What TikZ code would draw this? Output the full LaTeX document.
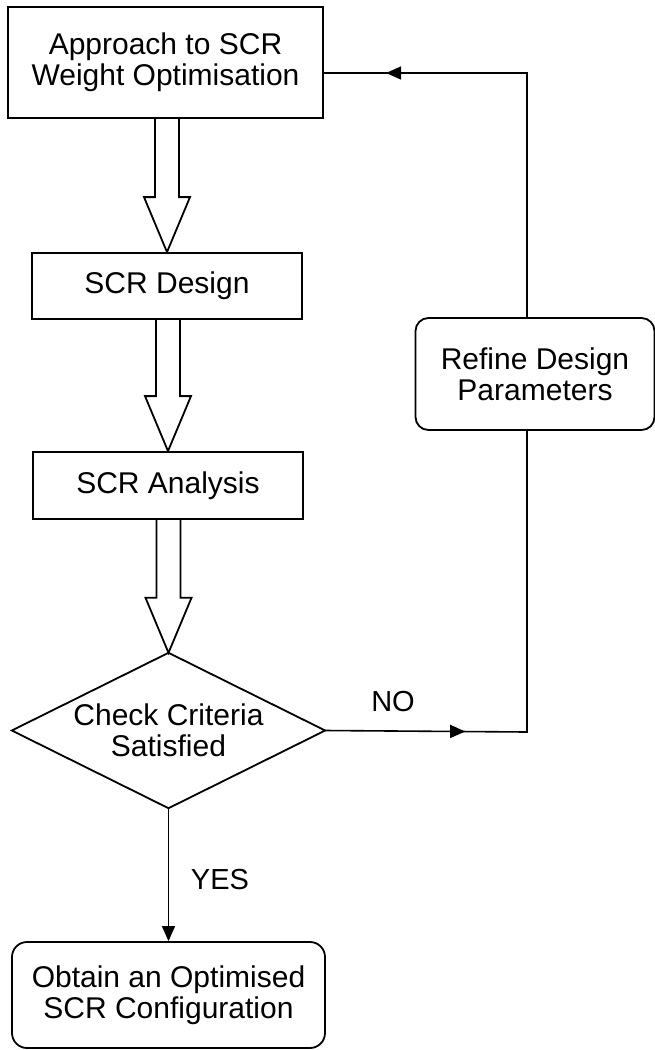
\documentclass[tikz,border=0pt]{standalone}
\usepackage{fontspec}
\setmainfont{Liberation Sans}
\usetikzlibrary{arrows.meta,decorations.markings,calc}
\newcommand{\hollowarr}[2]{%
  \draw[hollowline] let \p1=(#1), \p2=(#2) in
    (\x2-12pt,\y1) -- (\x2-12pt,\y2+55pt) -- (\x2-23pt,\y2+55pt) -- (\x2,\y2)
    -- (\x2+23pt,\y2+55pt) -- (\x2+12pt,\y2+55pt) -- (\x2+12pt,\y1);}
\begin{document}
\begin{tikzpicture}[x=1pt,y=-1pt,
  every node/.style={font=\fontsize{30}{31}\selectfont, align=center, inner sep=0pt},
  sqbox/.style={draw, line width=1.8pt, rectangle},
  rndbox/.style={draw, line width=1.8pt, rectangle, rounded corners=13pt},
  plainbox/.style={rectangle},
  hollowline/.style={line width=1.8pt, line join=miter},
  conn/.style={line width=1.6pt},
  midarrow/.style={postaction={decorate}, decoration={markings,
     mark=at position #1 with {\arrow{Triangle[length=15pt,width=13pt]}}}},
  lbl/.style={font=\fontsize{29}{30}\selectfont}]
\useasboundingbox (0,0) rectangle (655,1050);

\node[sqbox, minimum width=315pt, minimum height=111pt] (b1) at (165.5,62.5) {Approach to SCR\\Weight Optimisation};
\node[sqbox, minimum width=270pt, minimum height=66pt] (b2) at (167,286) {SCR Design};
\node[sqbox, minimum width=270pt, minimum height=67pt] (b3) at (168,485.5) {SCR Analysis};
\node[plainbox, minimum width=313pt, minimum height=155pt] (d) at (168.5,730.5) {Check Criteria\\Satisfied};
\draw[line width=1.8pt, line join=miter] (d.north) -- (d.east) -- (d.south) -- (d.west) -- cycle;
\node[rndbox, minimum width=239pt, minimum height=112pt] (ref) at (535,374) {Refine Design\\Parameters};
\node[rndbox, rounded corners=15pt, minimum width=313pt, minimum height=106pt] (fin) at (168.5,995) {Obtain an Optimised\\SCR Configuration};

\hollowarr{b1.south}{b2.north}
\hollowarr{b2.south}{b3.north}
\hollowarr{b3.south}{d.north}

\coordinate (c1) at (527,732);
\coordinate (c2) at (527,73);
\draw[conn, midarrow=140pt] (d.east) -- (c1) -- (c1 |- ref.south);
\draw[conn, midarrow=385pt] (c2 |- ref.north) -- (c2) -- (c2 -| b1.east);
\draw[conn, -{Triangle[length=15pt,width=13pt]}] (d.south) -- (fin.north);

\node[lbl] (no) at (393,702) {NO};
\node[lbl] (yes) at (220,880) {YES};
\end{tikzpicture}
\end{document}
